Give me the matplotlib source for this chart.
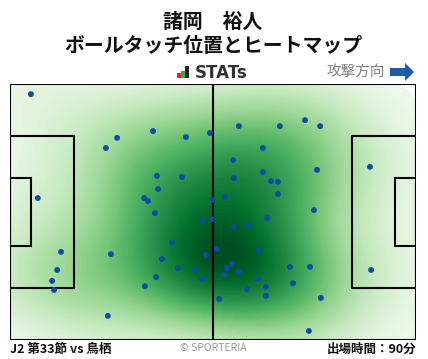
import numpy as np
import matplotlib
matplotlib.use("Agg")
import matplotlib.pyplot as plt
from matplotlib.patches import Rectangle, FancyArrow

plt.rcParams['font.family'] = ['Noto Sans CJK JP', 'DejaVu Sans']

# Ball touch locations on a 105 x 68 m pitch (attacking left -> right, y measured from top touchline)
touch_x = [5.4, 27.7, 24.8, 37.0, 45.5, 51.7, 38.0, 44.5, 38.3, 7.2,
           34.7, 35.7, 37.5, 52.2, 59.2, 69.8, 76.3, 80.2, 65.4, 57.7,
           93.1, 65.4, 57.9, 79.4, 67.5, 69.3, 69.3, 55.6, 78.6, 66.5,
           49.7, 52.2, 41.9, 13.2, 26.1, 50.7, 39.3, 43.4, 12.2, 47.8,
           37.8, 49.7, 10.9, 34.9, 11.4, 25.3, 57.9, 61.6, 53.5, 64.4,
           57.4, 56.1, 55.3, 59.2, 72.4, 77.6, 64.1, 61.3, 66.2, 73.2,
           54.1, 66.2, 80.4, 93.4, 77.3]
touch_y = [2.7, 14.3, 17.0, 12.5, 14.1, 13.0, 24.4, 24.7, 27.9, 30.3,
           30.3, 31.1, 34.3, 30.8, 11.2, 11.2, 9.6, 11.2, 17.0, 20.2,
           22.0, 23.4, 25.0, 22.8, 25.8, 26.0, 29.2, 30.0, 33.5, 35.6,
           36.4, 35.9, 42.2, 44.6, 45.2, 45.4, 46.5, 48.9, 49.4, 49.4,
           51.3, 51.8, 52.3, 53.7, 54.7, 61.6, 38.0, 37.7, 43.8, 44.1,
           47.8, 48.9, 50.7, 49.9, 48.6, 48.6, 51.8, 54.5, 53.9, 52.9,
           57.1, 56.3, 56.8, 49.4, 65.6]

player_name = "諸岡　裕人"
chart_title = "ボールタッチ位置とヒートマップ"
match_label = "J2 第33節 vs 鳥栖"
minutes_label = "出場時間：90分"
direction_label = "攻撃方向"
credit_label = "© SPORTERIA"

L, W = 105.0, 68.0

fig = plt.figure(figsize=(4.28, 3.59), dpi=100)
fig.patch.set_facecolor('white')
FW, FH = 428.0, 359.0

ax = fig.add_axes([10 / FW, (FH - 340) / FH, 406 / FW, 256 / FH])
ax.set_xlim(0, L)
ax.set_ylim(W, 0)
ax.axis('off')

# Gaussian kernel density of the touches
xs = np.array(touch_x)
ys = np.array(touch_y)
n = len(xs)
fac = n ** (-1.0 / 6.0)
bx = xs.std(ddof=1) * fac * 1.25
by = ys.std(ddof=1) * fac * 1.25
gx = np.linspace(0, L, 260)
gy = np.linspace(0, W, 170)
GX, GY = np.meshgrid(gx, gy)
dens = np.zeros_like(GX)
for px, py in zip(xs, ys):
    dens += np.exp(-0.5 * ((GX - px) / bx) ** 2 - 0.5 * ((GY - py) / by) ** 2)
dens /= dens.max()
shade = dens ** 0.8
levels = np.linspace(0.045, 1.0, 80)
ax.contourf(GX, GY, shade, levels=levels, cmap='Greens', vmin=-0.02, vmax=1.03,
            extend='max')

# Pitch markings
lw = 1.5
ax.add_patch(Rectangle((0, 0), L, W, fill=False, ec='black', lw=lw, zorder=3))
ax.plot([L / 2, L / 2], [0, W], color='black', lw=lw, zorder=3)
pb_d, pb_w = 16.5, 40.32
gb_d, gb_w = 5.5, 18.32
ax.add_patch(Rectangle((0, (W - pb_w) / 2), pb_d, pb_w, fill=False, ec='black', lw=lw, zorder=3))
ax.add_patch(Rectangle((L - pb_d, (W - pb_w) / 2), pb_d, pb_w, fill=False, ec='black', lw=lw, zorder=3))
ax.add_patch(Rectangle((0, (W - gb_w) / 2), gb_d, gb_w, fill=False, ec='black', lw=lw, zorder=3))
ax.add_patch(Rectangle((L - gb_d, (W - gb_w) / 2), gb_d, gb_w, fill=False, ec='black', lw=lw, zorder=3))

ax.scatter(xs, ys, s=18, color='#0a4ea3', edgecolors='none', zorder=4, clip_on=False)

# Header
fig.text(213 / FW, 1 - 21 / FH, player_name, ha='center', va='center',
         fontsize=14.3, fontweight='bold', color='#111111')
fig.text(213 / FW, 1 - 46 / FH, chart_title, ha='center', va='center',
         fontsize=14.3, fontweight='bold', color='#111111')

# STATs logo
for x0, h, c in [(177, 5, '#d9262b'), (181, 7, '#2eaa4a'), (185, 12, '#222222')]:
    fig.patches.append(Rectangle((x0 / FW, (FH - 78) / FH), 3.5 / FW, h / FH,
                                 transform=fig.transFigure, color=c, ec='none'))
fig.text(195 / FW, 1 - 73 / FH, "STATs", ha='left', va='center',
         fontsize=12, fontweight='bold', color='#333333', family='DejaVu Sans')

# Attack direction
fig.text(385 / FW, 1 - 72 / FH, direction_label, ha='right', va='center',
         fontsize=10.5, color='#808080')
fig.patches.append(FancyArrow(390 / FW, 1 - 72 / FH, 24 / FW, 0,
                              width=8 / FH, head_width=18 / FH, head_length=9 / FW,
                              length_includes_head=True, transform=fig.transFigure,
                              color='#1f5aa6', ec='none'))

# Footer
fig.text(10 / FW, 1 - 349 / FH, match_label, ha='left', va='center',
         fontsize=9, fontweight='bold', color='#111111')
fig.text(213 / FW, 1 - 348 / FH, credit_label, ha='center', va='center',
         fontsize=7.5, color='#999999')
fig.text(416 / FW, 1 - 349 / FH, minutes_label, ha='right', va='center',
         fontsize=9, fontweight='bold', color='#111111')

fig.savefig('out.png', dpi=100, facecolor='white')
